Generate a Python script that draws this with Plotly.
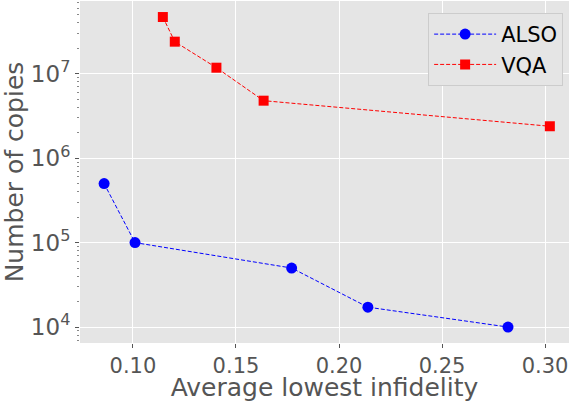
import plotly.graph_objects as go

also_x = [0.086, 0.101, 0.177, 0.214, 0.282]
also_y = [5.0e5, 1.0e5, 5.0e4, 1.72e4, 1.0e4]
vqa_x = [0.1145, 0.1203, 0.1405, 0.1634, 0.3023]
vqa_y = [4.7e7, 2.4e7, 1.18e7, 4.8e6, 2.39e6]

x_ticks = [0.10, 0.15, 0.20, 0.25, 0.30]
x_ticktext = ["0.10", "0.15", "0.20", "0.25", "0.30"]
y_ticks = [1e4, 1e5, 1e6, 1e7]
y_ticktext = ["10<sup>4</sup>", "10<sup>5</sup>", "10<sup>6</sup>", "10<sup>7</sup>"]

fig = go.Figure()
fig.add_trace(go.Scatter(x=also_x, y=also_y, name="ALSO", mode="lines+markers",
                         line=dict(color="blue", dash="4px,2px", width=1),
                         marker=dict(symbol="circle", size=11, color="blue")))
fig.add_trace(go.Scatter(x=vqa_x, y=vqa_y, name="VQA", mode="lines+markers",
                         line=dict(color="red", dash="4px,2px", width=1),
                         marker=dict(symbol="square", size=10, color="red")))

font = "DejaVu Sans"
fig.update_layout(
    width=570, height=402,
    margin=dict(l=80, r=1, t=1, b=59),
    paper_bgcolor="white", plot_bgcolor="#E5E5E5",
    font=dict(family=font, color="#555555"),
    showlegend=True,
    legend=dict(x=0.988, y=0.965, xanchor="right", yanchor="top",
                bgcolor="#E5E5E5", bordercolor="#CCCCCC", borderwidth=1,
                font=dict(size=21, color="black", family=font),
                itemwidth=62, tracegroupgap=4),
    xaxis=dict(range=[0.0743, 0.3116], tickvals=x_ticks, ticktext=x_ticktext,
               showgrid=True, gridcolor="white", gridwidth=1.2, zeroline=False,
               ticks="outside", ticklen=4, tickcolor="#555555",
               tickfont=dict(size=21, color="#555555"),
               title=dict(text="Average lowest infidelity", font=dict(size=25, color="#555555"), standoff=4)),
    yaxis=dict(type="log", range=[3.811, 7.862], tickvals=y_ticks, ticktext=y_ticktext,
               showgrid=True, gridcolor="white", gridwidth=1.2, zeroline=False,
               ticks="outside", ticklen=4, tickcolor="#555555",
               tickfont=dict(size=23, color="#555555"),
               minor=dict(ticks="outside", ticklen=2, dtick="D1", tickwidth=1,
                          tickcolor="#888888", showgrid=False),
               title=dict(text="Number of copies", font=dict(size=25, color="#555555"), standoff=0)),
)
fig.write_html("out.html")
